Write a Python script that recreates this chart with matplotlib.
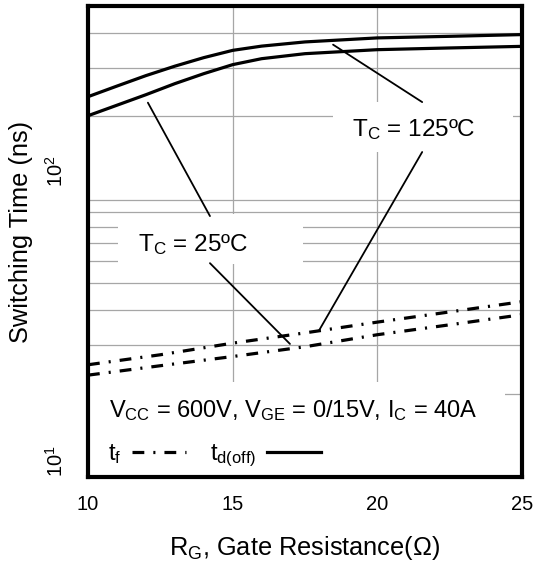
import matplotlib
matplotlib.use("Agg")
import matplotlib.pyplot as plt
from matplotlib.patches import Rectangle
from matplotlib.lines import Line2D
from matplotlib.transforms import ScaledTranslation

plt.rcParams['font.family'] = ['Liberation Sans', 'DejaVu Sans']
plt.rcParams['mathtext.fontset'] = 'custom'
plt.rcParams['mathtext.rm'] = 'Liberation Sans'
plt.rcParams['mathtext.it'] = 'Liberation Sans:italic'
plt.rcParams['lines.scale_dashes'] = False

# gate resistance (ohm)
rg_td = [10, 11, 12, 13, 14, 15, 16, 17.5, 20, 22.5, 25]
td_off_125 = [235.4, 257.1, 280.4, 303.3, 325.6, 345.9, 358.3, 371.0, 383.6, 388.7, 394.3]
td_off_25 = [201.0, 219.3, 239.3, 262.3, 285.0, 307.2, 322.8, 336.5, 347.9, 352.9, 357.6]

rg_tf = [10, 12.5, 15, 17.5, 20, 22.5, 25]
tf_125 = [25.4, 27.6, 30.4, 33.1, 36.2, 39.4, 42.9]
tf_25 = [23.3, 25.2, 27.2, 29.5, 32.6, 35.4, 38.5]

xticks = [10, 15, 20, 25]
yticks = [10, 100]
ytick_labels = [r'$10^{1}$', r'$10^{2}$']

fig = plt.figure(figsize=(5.35, 5.64), dpi=100)
ax = fig.add_axes([88 / 535, 87 / 564, 434 / 535, 471 / 564])

ax.set_yscale('log')
ax.set_xlim(10, 25)
ax.set_ylim(10, 500)

dashdot = (0, (8.5, 6.5, 1.5, 6.5))
lw = 2.3
ax.plot(rg_td, td_off_125, color='black', lw=lw, zorder=3)
ax.plot(rg_td, td_off_25, color='black', lw=lw, zorder=3)
ax.plot(rg_tf, tf_125, color='black', lw=lw, ls=dashdot, zorder=3)
ax.plot(rg_tf, tf_25, color='black', lw=lw, ls=dashdot, zorder=3)

# grid
ax.set_axisbelow(True)
ax.set_xticks(xticks)
ax.set_yticks(yticks)
ax.set_yticks([20, 30, 40, 50, 60, 70, 80, 90, 200, 300, 400], minor=True)
ax.yaxis.set_minor_formatter(plt.NullFormatter())
ax.grid(True, which='both', color='#a6a6a6', lw=0.9)
ax.set_yticklabels(ytick_labels)
ax.tick_params(which='both', length=0)
ax.tick_params(axis='x', labelsize=14.5, pad=13)
ax.tick_params(axis='y', labelsize=14.5, pad=15)
for i, lab in enumerate(ax.get_yticklabels()):
    lab.set_rotation(90)
    lab.set_va('bottom')
    if i == 1:
        lab.set_transform(lab.get_transform()
                          + ScaledTranslation(0, 0.13, fig.dpi_scale_trans))

for sp in ax.spines.values():
    sp.set_linewidth(3)

ax.set_xlabel(r'R$_\mathrm{G}$, Gate Resistance(Ω)', fontsize=18.3, labelpad=14)
ax.set_ylabel('Switching Time (ns)', fontsize=18.3)
ax.yaxis.set_label_coords(-0.127, 0.521)

# white label backgrounds that break the grid
for x0, y0, w, h in [(0.069, 0.452, 0.426, 0.106),
                     (0.565, 0.690, 0.414, 0.106),
                     (0.005, 0.0, 0.956, 0.202)]:
    ax.add_patch(Rectangle((x0, y0), w, h, transform=ax.transAxes,
                           facecolor='white', edgecolor='none', zorder=1))

ax.text(0.115, 0.480, r'T$_\mathrm{C}$ = 25ºC', transform=ax.transAxes,
        fontsize=17.5, va='baseline', ha='left', zorder=4)
ax.text(0.608, 0.724, r'T$_\mathrm{C}$ = 125ºC', transform=ax.transAxes,
        fontsize=17.5, va='baseline', ha='left', zorder=4)
ax.text(0.048, 0.127, r'V$_\mathrm{CC}$ = 600V, V$_\mathrm{GE}$ = 0/15V, I$_\mathrm{C}$ = 40A',
        transform=ax.transAxes, fontsize=17, va='baseline', ha='left', zorder=4)

leader = dict(arrowstyle='-', color='black', lw=1.3, shrinkA=0, shrinkB=0)
ax.annotate('', xy=(12.07, 224), xytext=(0.281, 0.554), textcoords='axes fraction',
            arrowprops=leader, zorder=4)
ax.annotate('', xy=(16.98, 30.2), xytext=(0.281, 0.454), textcoords='axes fraction',
            arrowprops=leader, zorder=4)
ax.annotate('', xy=(18.47, 362.7), xytext=(0.770, 0.796), textcoords='axes fraction',
            arrowprops=leader, zorder=4)
ax.annotate('', xy=(17.98, 33.7), xytext=(0.770, 0.690), textcoords='axes fraction',
            arrowprops=leader, zorder=4)

handles = [Line2D([], [], color='black', lw=lw, ls=dashdot),
           Line2D([], [], color='black', lw=lw)]
ax.legend(handles, [r't$_\mathrm{f}$', r't$_\mathrm{d(off)}$'], loc='center left',
          bbox_to_anchor=(0.046, 0.0446), ncol=2, markerfirst=False, frameon=False,
          fontsize=17, handlelength=2.3, handletextpad=0.45, columnspacing=1.0,
          borderpad=0, borderaxespad=0)

fig.savefig('out.png', dpi=100)
